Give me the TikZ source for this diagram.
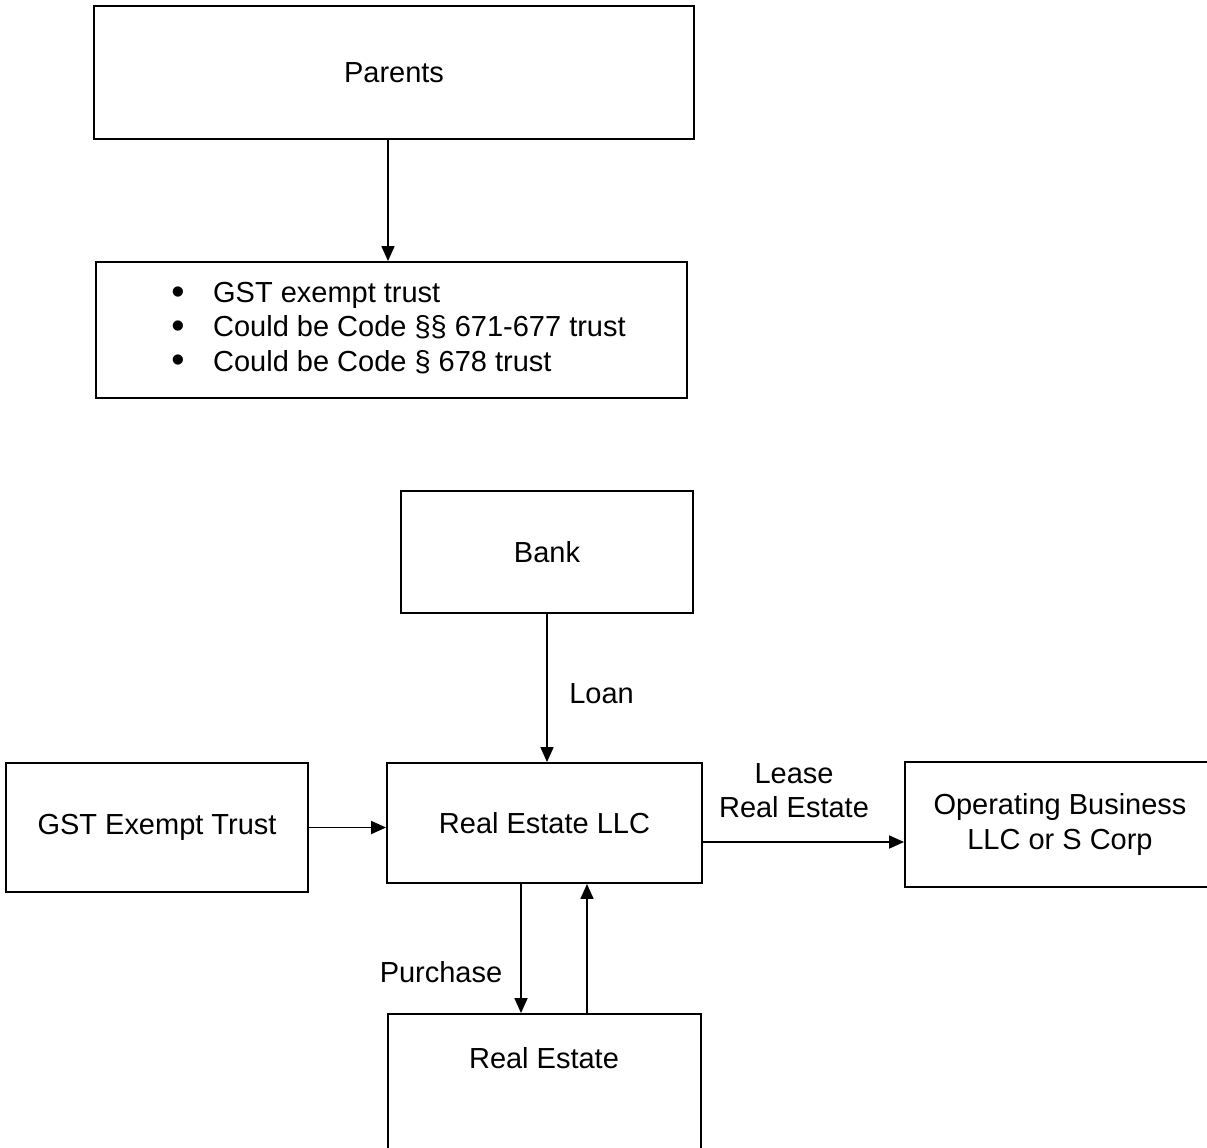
\documentclass[tikz,border=0pt]{standalone}
\usepackage{fontspec}
\setmainfont{Liberation Sans}
\usetikzlibrary{arrows.meta}

\newcommand{\trustbullet}{\makebox[23.8pt][l]{\raisebox{-0.1ex}{\scalebox{1.3}{•}}}}

\begin{document}
\begin{tikzpicture}[x=0.02cm,y=-0.02cm,>={Triangle[length=0.3cm,width=0.26cm]},
  box/.style={draw,line width=1.1pt,inner sep=0pt,align=center,font=\fontsize{16.5}{19.5}\selectfont},
  lbl/.style={inner sep=0pt,align=center,font=\fontsize{16.5}{19.5}\selectfont},
  flow/.style={->,line width=1pt}]
  \useasboundingbox (0,0) rectangle (1207,1147);
  % trust set up by the parents
  \node[box,minimum width=12cm,minimum height=2.66cm] (parents) at (394,72.5) {Parents};
  \node[box,minimum width=11.82cm,minimum height=2.72cm] (trust) at (391.5,330) {};
  \node[lbl,anchor=west] (trustlist) at (171,330) {\begin{tabular}{@{}l@{}}
    \trustbullet GST exempt trust\\
    \trustbullet Could be Code §§ 671-677 trust\\
    \trustbullet Could be Code § 678 trust
  \end{tabular}};
  \draw[flow] ([xshift=-0.12cm]parents.south) -- ([xshift=-0.12cm]parents.south |- trust.north);
  % real estate structure
  \node[box,minimum width=5.84cm,minimum height=2.44cm] (bank) at (547,552) {Bank};
  \node[box,minimum width=6.3cm,minimum height=2.4cm] (llc) at (544.5,823) {Real Estate LLC};
  \node[box,minimum width=6.04cm,minimum height=2.58cm] (gst) at (157,827.5) {GST Exempt Trust};
  \node[box,minimum width=6.2cm,minimum height=2.5cm] (opbiz) at (1060,824.5) {Operating Business\\LLC or S Corp};
  \node[box,minimum width=6.26cm,minimum height=3cm] (realestate) at (544.5,1089) {};
  \node[lbl] (retext) at (544,1058) {Real Estate};
  \draw[flow] (bank.south) -- (bank.south |- llc.north);
  \node[lbl,anchor=west] (loan) at (569,694) {Loan};
  \draw[flow] (gst.east) -- (gst.east -| llc.west);
  \draw[flow] ([yshift=-0.38cm]llc.east) -- ([yshift=-0.38cm]llc.east -| opbiz.west);
  \node[lbl] (lease) at (794,791) {Lease\\Real Estate};
  \draw[flow] ([xshift=-0.47cm]llc.south) -- ([xshift=-0.47cm]llc.south |- realestate.north);
  \draw[flow] ([xshift=0.85cm]llc.south |- realestate.north) -- ([xshift=0.85cm]llc.south);
  \node[lbl] (purchase) at (441,972) {Purchase};
\end{tikzpicture}
\end{document}
